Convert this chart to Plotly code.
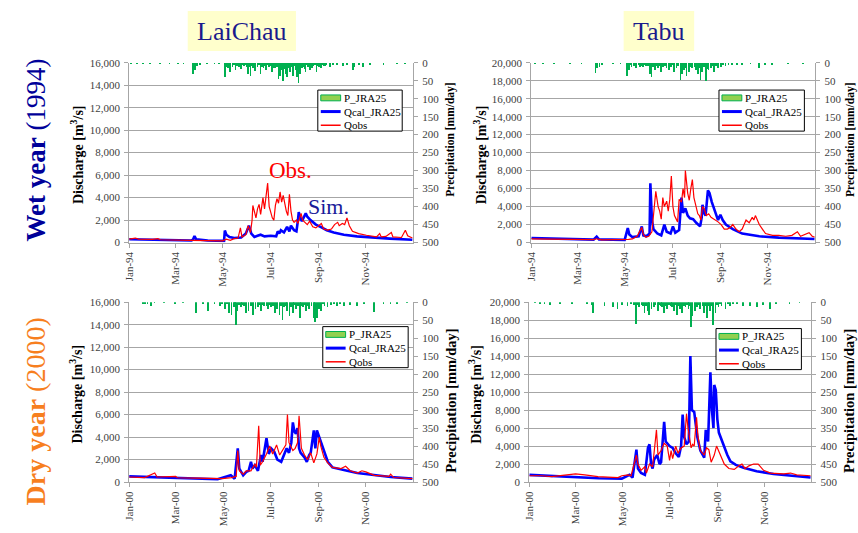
import pandas as pd
import plotly.graph_objects as go

W, H = 858, 533
FONT = "Liberation Serif, Times New Roman, serif"

# ---------------- data (day-of-year, value) ----------------
# LaiChau 1994 (wet year)
lc94_qcal = [(0,300),(37,260),(80,180),(82,250),(84,580),(86,300),(101,180),(122,150),(123,1070),(125,700),(129,500),(135,400),(144,450),(150,800),(154,1500),(157,800),(161,500),(165,600),(169,700),(174,550),(182,600),(189,550),(191,1000),(193,800),(195,1100),(199,900),(203,1400),(206,1000),(208,1500),(212,1100),(215,1000),(217,2000),(218,2700),(220,2200),(222,1900),(227,2600),(229,2300),(233,2000),(240,1600),(246,1400),(254,1100),(263,900),(276,700),(293,550),(310,450),(335,350),(364,250)]
lc94_qobs = [(0,300),(8,400),(12,300),(30,280),(37,350),(40,250),(80,200),(100,150),(120,150),(125,300),(130,200),(135,350),(140,400),(143,1300),(145,500),(150,700),(153,1500),(156,900),(158,2000),(159,3300),(161,2600),(163,2200),(165,3000),(167,3400),(169,2500),(172,4000),(174,3000),(176,4100),(178,5300),(180,3200),(182,2600),(184,2200),(186,2000),(188,3300),(190,3900),(192,3500),(194,4500),(196,3600),(198,4200),(200,3400),(202,2800),(204,2400),(206,4300),(208,2800),(210,2000),(212,1800),(215,2000),(217,1700),(219,2100),(221,2600),(223,2000),(226,1800),(229,1600),(232,1900),(236,1400),(240,1300),(243,1500),(247,1700),(250,1200),(255,1100),(260,1200),(264,1600),(268,1800),(270,1500),(274,1700),(277,1600),(280,2200),(283,1500),(287,1000),(295,800),(305,650),(318,500),(322,800),(324,500),(330,550),(337,900),(339,500),(345,500),(350,450),(355,1100),(358,600),(364,400)]
lc94_p = [(3,1),(10,2),(18,1),(27,1),(40,2),(52,1),(63,1),(70,2),(82,31),(83,10),(85,20),(87,8),(91,5),(100,2),(110,1),(116,2),(123,40),(124,8),(125,12),(127,15),(128,6),(130,25),(133,10),(135,5),(137,20),(139,9),(141,12),(144,18),(146,6),(148,8),(150,4),(151,10),(153,30),(155,12),(156,35),(158,7),(159,15),(161,9),(162,22),(165,10),(167,6),(169,30),(171,12),(173,15),(175,8),(176,20),(178,5),(180,10),(182,9),(184,25),(186,14),(188,15),(190,10),(192,45),(194,35),(195,20),(196,12),(198,50),(199,18),(201,30),(203,40),(205,15),(207,25),(209,12),(211,35),(213,9),(214,20),(216,40),(218,56),(220,30),(222,15),(224,10),(226,18),(227,25),(229,6),(230,10),(233,20),(235,14),(237,8),(239,6),(241,25),(243,9),(244,10),(247,15),(249,5),(250,8),(252,7),(254,5),(258,12),(262,4),(267,5),(275,8),(280,3),(288,20),(290,10),(296,4),(301,12),(310,4),(327,3),(344,2),(355,1)]

# Tabu 1994 (wet year)
tb94_qcal = [(0,500),(40,420),(80,320),(84,650),(87,350),(120,300),(124,1600),(126,900),(130,600),(138,700),(142,1800),(144,800),(148,700),(152,1000),(153,6600),(155,2500),(157,1500),(162,1000),(167,800),(171,2000),(174,1200),(179,1000),(182,1800),(185,1100),(190,1400),(193,5000),(195,3300),(198,3800),(201,3000),(204,2700),(208,2600),(212,2200),(217,1800),(219,2800),(220,4200),(222,3300),(224,3000),(227,5800),(229,5500),(232,4500),(236,3500),(240,2500),(243,3100),(246,2500),(250,2000),(259,1500),(271,1000),(293,700),(318,550),(344,450),(364,400)]
tb94_qobs = [(0,400),(20,380),(45,300),(80,330),(84,420),(90,300),(125,350),(130,400),(136,700),(142,1700),(144,900),(147,600),(151,700),(155,1200),(160,5700),(163,4000),(165,3500),(167,2600),(169,5000),(171,4000),(174,4600),(176,3500),(178,4800),(180,7400),(182,4000),(184,3000),(188,2300),(190,4800),(193,4500),(195,6000),(197,5000),(198,8000),(201,5500),(203,4700),(205,6000),(207,7000),(209,5000),(212,4000),(214,3200),(216,3000),(218,2500),(220,4000),(222,3800),(225,3000),(228,3200),(231,2800),(235,2600),(240,2300),(244,2000),(248,1500),(252,1500),(256,1700),(259,2000),(263,1500),(267,1200),(271,1500),(276,2500),(280,2200),(284,2800),(286,2500),(288,3000),(293,2000),(297,1500),(301,1000),(310,800),(318,800),(327,700),(335,800),(342,1200),(346,700),(357,1100),(361,700),(364,600)]
tb94_p = [(5,1),(15,2),(30,1),(50,1),(65,2),(83,28),(85,15),(88,10),(91,5),(105,2),(115,1),(123,35),(124,9),(126,20),(127,6),(129,12),(132,8),(134,5),(135,15),(138,6),(140,10),(142,7),(144,12),(146,5),(148,8),(150,9),(153,30),(155,40),(157,12),(159,20),(161,8),(163,15),(165,9),(167,25),(170,10),(172,7),(174,15),(177,20),(180,10),(182,6),(184,25),(187,15),(189,9),(192,48),(194,30),(196,12),(197,20),(199,14),(200,35),(203,25),(205,10),(207,15),(210,12),(212,20),(215,30),(217,14),(218,48),(220,25),(222,12),(225,50),(227,16),(228,20),(231,15),(233,8),(235,25),(238,7),(240,15),(244,10),(247,6),(250,8),(254,4),(258,5),(265,3),(271,3),(282,2),(293,15),(301,5),(310,3),(330,2),(350,1)]

# LaiChau 2000 (dry year)
lc00_qcal = [(0,500),(30,430),(60,350),(90,280),(114,250),(131,600),(136,300),(140,3000),(142,1200),(147,600),(151,900),(154,1000),(157,1800),(159,1200),(162,1500),(166,1000),(170,2400),(172,1800),(177,3900),(180,2500),(183,3000),(187,2700),(191,2000),(196,1800),(200,2500),(203,3000),(206,2600),(209,3500),(211,5300),(213,4500),(215,4300),(217,4800),(219,3000),(221,2600),(226,2200),(229,1800),(232,2400),(234,2600),(238,4600),(240,3000),(242,4600),(244,4200),(247,3500),(252,2500),(256,1800),(262,1300),(273,1100),(281,1000),(294,800),(316,600),(337,450),(365,300)]
lc00_qobs = [(0,450),(20,400),(33,800),(36,450),(60,500),(62,380),(89,350),(120,300),(132,400),(138,500),(140,2800),(142,1000),(147,700),(151,1000),(157,1000),(162,1600),(164,1300),(167,5000),(169,1500),(172,1800),(177,2500),(181,3200),(185,2500),(190,3300),(194,2400),(198,2800),(202,3300),(204,6000),(206,3500),(211,2800),(214,3000),(217,3500),(219,5900),(222,3000),(226,2400),(230,2000),(234,2600),(238,1700),(242,2500),(245,4000),(247,3200),(251,2200),(256,1700),(262,1300),(273,1200),(279,1400),(285,1000),(294,800),(300,1000),(305,900),(316,600),(335,500),(337,700),(341,400),(365,300)]
lc00_p = [(18,3),(21,5),(24,4),(28,12),(33,2),(45,2),(59,3),(70,2),(86,30),(95,3),(102,25),(110,4),(117,10),(120,4),(124,20),(126,6),(129,30),(132,35),(135,15),(137,8),(138,63),(140,25),(142,9),(144,15),(146,7),(148,10),(151,30),(154,25),(157,10),(160,35),(163,20),(166,15),(168,8),(170,25),(172,9),(174,10),(177,12),(179,20),(181,7),(183,15),(186,10),(188,30),(191,20),(194,35),(196,12),(198,50),(200,15),(202,10),(204,25),(207,40),(209,14),(211,30),(213,9),(215,20),(218,12),(220,45),(222,10),(224,15),(226,8),(228,25),(230,10),(232,20),(235,12),(238,45),(240,55),(242,45),(245,20),(247,25),(250,6),(252,10),(256,15),(260,8),(264,4),(268,10),(272,5),(277,12),(285,8),(294,10),(303,5),(316,28),(328,3),(337,4),(345,3),(358,2)]

# Tabu 2000 (dry year)
tb00_qcal = [(0,800),(30,650),(60,500),(90,420),(120,380),(130,800),(134,500),(139,3600),(141,1500),(145,1000),(150,800),(154,3800),(156,4200),(158,2000),(160,1500),(162,2500),(166,3000),(169,2000),(171,2200),(175,6700),(177,4500),(182,4000),(186,3800),(190,3200),(194,2800),(197,4000),(199,7500),(201,5000),(204,4200),(207,4500),(209,14000),(211,8000),(214,7800),(216,6500),(218,5000),(222,3500),(227,2700),(229,5800),(232,4500),(235,12200),(237,8000),(239,6000),(240,10800),(242,10200),(244,7000),(246,5500),(248,5000),(253,4000),(257,3000),(261,2300),(268,1900),(278,1600),(295,1200),(317,900),(338,700),(365,500)]
tb00_qobs = [(0,700),(16,700),(29,600),(40,700),(60,900),(72,800),(89,600),(115,500),(120,700),(128,800),(132,700),(139,3000),(141,2000),(145,1300),(150,1700),(152,1000),(156,2000),(160,1700),(165,5800),(167,3000),(171,3500),(175,4300),(179,4000),(182,2400),(184,3500),(186,2600),(190,4000),(193,3200),(197,3800),(201,4000),(204,7600),(206,6000),(210,3800),(212,4200),(214,4000),(217,7200),(219,5000),(222,3500),(227,3000),(230,3800),(233,3600),(236,2200),(240,3000),(243,4000),(248,3000),(253,2000),(259,1500),(266,1400),(272,1800),(276,2000),(280,1500),(285,1800),(291,2000),(297,2000),(304,1300),(313,1000),(330,900),(339,1000),(347,800),(365,700)]
tb00_p = [(8,2),(14,3),(20,5),(27,8),(40,3),(56,5),(75,3),(81,8),(83,30),(98,12),(109,15),(115,20),(121,8),(128,10),(132,5),(136,7),(139,60),(141,9),(143,15),(146,8),(148,12),(150,30),(152,10),(154,25),(156,35),(159,20),(162,15),(164,8),(167,25),(169,9),(171,10),(173,14),(175,30),(177,12),(179,20),(182,8),(184,10),(186,14),(188,25),(190,9),(192,35),(194,12),(196,20),(199,30),(201,10),(203,15),(205,9),(207,20),(208,12),(210,70),(212,40),(215,25),(218,15),(220,9),(222,20),(225,10),(227,30),(229,12),(231,45),(233,10),(235,25),(237,12),(239,65),(242,30),(244,8),(246,15),(248,6),(250,10),(255,20),(258,6),(261,10),(265,4),(270,5),(278,10),(287,12),(296,15),(304,8),(313,20),(321,5),(338,3),(351,2)]

tick_months = [1, 3, 5, 7, 9, 11]
legend_labels = ["P_JRA25", "Qcal_JRA25", "Qobs"]

# ---------------- helpers ----------------
def fx(x):
    return x / W

def fy(y):
    return 1 - y / H

def to_dates(year, pairs):
    base = pd.Timestamp(f"{year}-01-01")
    return [base + pd.Timedelta(days=d) for d, _ in pairs], [v for _, v in pairs]

panels = [
    dict(year=1994, qcal=lc94_qcal, qobs=lc94_qobs, p=lc94_p, ymax=16000, xd=(124, 410), yd=(58, 242), leg=(314, 86, 399, 128)),
    dict(year=1994, qcal=tb94_qcal, qobs=tb94_qobs, p=tb94_p, ymax=20000, xd=(529, 815), yd=(58, 242), leg=(718, 86, 804, 128)),
    dict(year=2000, qcal=lc00_qcal, qobs=lc00_qobs, p=lc00_p, ymax=16000, xd=(124, 410), yd=(303, 487), leg=(319, 328, 405, 370)),
    dict(year=2000, qcal=tb00_qcal, qobs=tb00_qobs, p=tb00_p, ymax=20000, xd=(527, 811), yd=(303, 487), leg=(715, 330, 801, 372)),
]

GRID = "#a6a6a6"
TICKC = "#404040"
fig = go.Figure()
layout = dict(width=W, height=H, autosize=False, margin=dict(l=0, r=0, t=0, b=0, pad=0),
              paper_bgcolor="white", plot_bgcolor="white", showlegend=False,
              font=dict(family=FONT, color="black"))
shapes = []
annotations = []

for k, pn in enumerate(panels):
    xn = "x" if k == 0 else f"x{k+1}"
    yl = f"y{2*k+1}" if k > 0 else "y"
    yr = f"y{2*k+2}"
    xkey = "xaxis" if k == 0 else f"xaxis{k+1}"
    ylkey = "yaxis" if k == 0 else f"yaxis{2*k+1}"
    yrkey = f"yaxis{2*k+2}"
    year = pn["year"]

    pd_x, pd_y = to_dates(year, pn["p"])
    fig.add_trace(go.Bar(x=pd_x, y=pd_y, xaxis=xn, yaxis=yr, name="P_JRA25",
                         marker=dict(color="#00b050", line=dict(width=0)),
                         width=86400000 * 0.9))
    cx, cy = to_dates(year, pn["qcal"])
    fig.add_trace(go.Scatter(x=cx, y=cy, xaxis=xn, yaxis=yl, mode="lines", name="Qcal_JRA25",
                             line=dict(color="#0000ff", width=2.6)))
    ox, oy = to_dates(year, pn["qobs"])
    fig.add_trace(go.Scatter(x=ox, y=oy, xaxis=xn, yaxis=yl, mode="lines", name="Qobs",
                             line=dict(color="#ff0000", width=1.2)))

    tickfont = dict(family=FONT, size=11, color=TICKC)
    layout[xkey] = dict(domain=[fx(pn["xd"][0]), fx(pn["xd"][1])], anchor=yl, type="date",
                        range=[f"{year}-01-01", f"{year+1}-01-01"],
                        tickvals=[f"{year}-{m:02d}-01" for m in tick_months],
                        tickformat="%b-%y", tickangle=-90, ticks="outside", ticklen=4,
                        tickcolor=GRID, showline=True, linecolor=GRID, linewidth=1,
                        showgrid=False, zeroline=False, tickfont=tickfont)
    layout[ylkey] = dict(domain=[fy(pn["yd"][1]), fy(pn["yd"][0])], anchor=xn,
                         range=[0, pn["ymax"]], dtick=2000, tickformat=",d",
                         showgrid=True, gridcolor=GRID, gridwidth=1, showline=True,
                         linecolor=GRID, ticks="outside", ticklen=4, tickcolor=GRID,
                         zeroline=False, tickfont=tickfont, ticklabelstandoff=2)
    layout[yrkey] = dict(overlaying=yl, side="right", anchor=xn, range=[500, 0], dtick=50,
                         showgrid=False, showline=True, linecolor=GRID, ticks="outside",
                         ticklen=4, tickcolor=GRID, zeroline=False, tickfont=tickfont,
                         ticklabelstandoff=2)

    # legend box
    lx0, ly0, lx1, ly1 = pn["leg"]
    shapes.append(dict(type="rect", xref="paper", yref="paper", x0=fx(lx0), x1=fx(lx1),
                       y0=fy(ly1), y1=fy(ly0), line=dict(color="black", width=1),
                       fillcolor="white", layer="above"))
    rows = [ly0 + 8, ly0 + 22, ly0 + 36]
    sx0, sx1 = lx0 + 3, lx0 + 23
    shapes.append(dict(type="rect", xref="paper", yref="paper", x0=fx(sx0), x1=fx(sx1),
                       y0=fy(rows[0] + 3), y1=fy(rows[0] - 3),
                       line=dict(color="#00b050", width=1), fillcolor="#92d050", layer="above"))
    shapes.append(dict(type="line", xref="paper", yref="paper", x0=fx(sx0), x1=fx(sx1),
                       y0=fy(rows[1]), y1=fy(rows[1]), line=dict(color="#0000ff", width=3), layer="above"))
    shapes.append(dict(type="line", xref="paper", yref="paper", x0=fx(sx0), x1=fx(sx1),
                       y0=fy(rows[2]), y1=fy(rows[2]), line=dict(color="#ff0000", width=1.5), layer="above"))
    for r, lab in zip(rows, legend_labels):
        annotations.append(dict(xref="paper", yref="paper", x=fx(sx1 + 1), y=fy(r), text=lab,
                                showarrow=False, xanchor="left", yanchor="middle",
                                font=dict(family=FONT, size=11, color="black")))

# axis titles
for xc, yc in [(71, 152), (477, 152), (71, 397), (472, 397)]:
    annotations.append(dict(xref="paper", yref="paper", x=fx(xc), y=fy(yc),
                            text="<b>Discharge [m<sup>3</sup>/s]</b>", textangle=-90,
                            showarrow=False, xanchor="center", yanchor="middle",
                            font=dict(family=FONT, size=14, color="black")))
for xc, yc, fs in [(448, 137, 11.5), (851, 137, 11.5), (448, 404, 14.5), (849, 404, 14.5)]:
    annotations.append(dict(xref="paper", yref="paper", x=fx(xc), y=fy(yc),
                            text="<b>Precipitation [mm/day]</b>", textangle=-90,
                            showarrow=False, xanchor="center", yanchor="middle",
                            font=dict(family=FONT, size=fs, color="black")))

# station title boxes
for (x0, x1), name in [((183, 292), "LaiChau"), ((622, 693), "Tabu")]:
    shapes.append(dict(type="rect", xref="paper", yref="paper", x0=fx(x0), x1=fx(x1),
                       y0=fy(46), y1=fy(5), line=dict(width=0), fillcolor="#ffffcc"))
    annotations.append(dict(xref="paper", yref="paper", x=fx((x0 + x1) / 2), y=fy(26),
                            text=name, showarrow=False, xanchor="center", yanchor="middle",
                            font=dict(family=FONT, size=26, color="#1a1a8c")))

# row labels
annotations.append(dict(xref="paper", yref="paper", x=fx(30), y=fy(147),
                        text="<b>Wet year</b> (1994)", textangle=-90, showarrow=False,
                        xanchor="center", yanchor="middle",
                        font=dict(family=FONT, size=27, color="#000099")))
annotations.append(dict(xref="paper", yref="paper", x=fx(30), y=fy(415),
                        text="<b>Dry year</b> (2000)", textangle=-90, showarrow=False,
                        xanchor="center", yanchor="middle",
                        font=dict(family=FONT, size=28, color="#f77f1f")))

# in-plot labels
annotations.append(dict(xref="paper", yref="paper", x=fx(287), y=fy(168), text="Obs.",
                        showarrow=False, xanchor="center", yanchor="middle",
                        font=dict(family=FONT, size=23, color="#ff0000")))
annotations.append(dict(xref="paper", yref="paper", x=fx(325), y=fy(205), text="Sim.",
                        showarrow=False, xanchor="center", yanchor="middle",
                        font=dict(family=FONT, size=22, color="#1a1a99")))

layout["shapes"] = shapes
layout["annotations"] = annotations
layout["bargap"] = 0
fig.update_layout(**layout)
fig.write_html("out.html", config={"displayModeBar": False},
               post_script="document.body.style.margin='0';document.body.style.padding='0';document.body.style.overflow='hidden';")
